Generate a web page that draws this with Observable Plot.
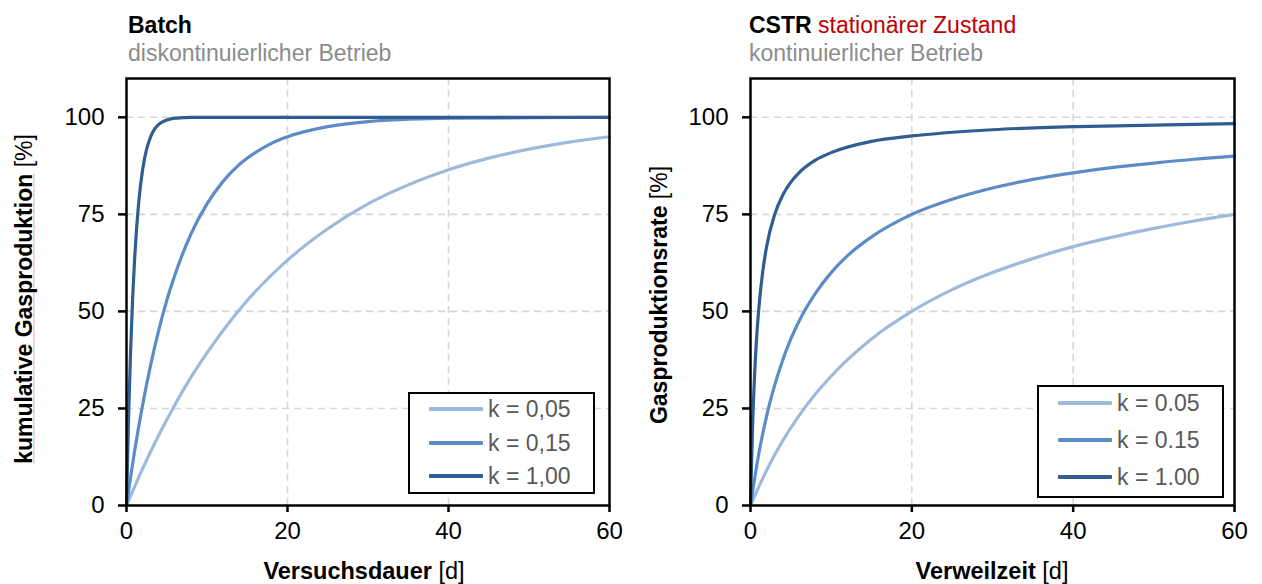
<!DOCTYPE html>
<html><head><meta charset="utf-8">
<script src="https://cdn.jsdelivr.net/npm/d3@7"></script>
<script src="https://cdn.jsdelivr.net/npm/@observablehq/plot@0.6"></script>
<style>
body{margin:0;background:#fff;font-family:"Liberation Sans",Arial,sans-serif;}
#root{position:relative;width:1262px;height:584px;overflow:hidden;background:#fff;}
.abs{position:absolute;white-space:nowrap;line-height:1;}
.panel{position:absolute;top:0;}
.legend{position:absolute;background:#fff;border:2px solid #000;box-sizing:border-box;}
.lrow{position:absolute;left:0;right:0;height:0;}
.lline{position:absolute;height:4px;margin-top:-2px;border-radius:1px;}
.ltext{position:absolute;font-size:23px;color:#595959;line-height:1;margin-top:-11.5px;white-space:nowrap;}
</style></head><body><div id="root"></div><script>
// ---- data ----
const kLabelsBatch = ["k = 0,05", "k = 0,15", "k = 1,00"];
const kLabelsCstr = ["k = 0.05", "k = 0.15", "k = 1.00"];
const seriesColors = ["#9dbadd", "#5b8cc8", "#305d92"];

// Batch (cumulative gas production, %)
const batchT005 = [0, 2, 4, 6, 8, 10, 12, 15, 20, 25, 30, 35, 40, 45, 50, 55, 60];
const batchV005 = [0, 9.5, 18.1, 25.9, 33.0, 39.3, 45.1, 52.8, 63.2, 71.3, 77.7, 82.6, 86.5, 89.5, 91.8, 93.6, 95.0];
const batchT015 = [0, 1, 2, 3, 4, 5, 6, 8, 10, 12, 14, 16, 18, 20, 25, 30, 35, 40, 50, 60];
const batchV015 = [0, 13.9, 25.9, 36.2, 45.1, 52.8, 59.3, 69.9, 77.7, 83.5, 87.8, 90.9, 93.3, 95.0, 97.6, 98.9, 99.5, 99.8, 99.9, 100];
const batchT100 = [0, 0.25, 0.5, 0.75, 1, 1.5, 2, 2.5, 3, 3.5, 4, 5, 6, 7, 8, 10, 20, 40, 60];
const batchV100 = [0, 22.1, 39.3, 52.8, 63.2, 77.7, 86.5, 91.8, 95.0, 97.0, 98.2, 99.3, 99.8, 99.9, 100, 100, 100, 100, 100];

// CSTR (gas production rate, %)
const cstrT005 = [0, 2, 4, 6, 8, 10, 12, 15, 20, 25, 30, 35, 40, 45, 50, 55, 60];
const cstrV005 = [0, 9.1, 16.7, 23.1, 28.6, 33.3, 37.5, 42.9, 50.0, 55.6, 60.0, 63.6, 66.7, 69.2, 71.4, 73.3, 75.0];
const cstrT015 = [0, 1, 2, 3, 4, 5, 6, 8, 10, 12, 15, 20, 25, 30, 35, 40, 45, 50, 55, 60];
const cstrV015 = [0, 13.0, 23.1, 31.0, 37.5, 42.9, 47.4, 54.5, 60.0, 64.3, 69.2, 75.0, 78.9, 81.8, 84.0, 85.7, 87.1, 88.2, 89.2, 90.0];
const cstrT100 = [0, 0.25, 0.5, 0.75, 1, 1.5, 2, 3, 4, 5, 6, 8, 10, 15, 20, 30, 40, 50, 60];
const cstrV100 = [0, 20.0, 33.3, 42.9, 50.0, 60.0, 66.7, 75.0, 80.0, 83.3, 85.7, 88.9, 90.9, 93.8, 95.2, 96.8, 97.6, 98.0, 98.4];

const xTicks = [0, 20, 40, 60];
const yTicks = [0, 25, 50, 75, 100];

function toRows(ts, vs, labels) {
  return ts.flatMap((t, i) => t.map((x, j) => ({t: x, v: vs[i][j], k: labels[i]})));
}
const batchData = toRows([batchT005, batchT015, batchT100], [batchV005, batchV015, batchV100], kLabelsBatch);
const cstrData = toRows([cstrT005, cstrT015, cstrT100], [cstrV005, cstrV015, cstrV100], kLabelsCstr);

const root = document.getElementById("root");
const FONT = '"Liberation Sans", Arial, sans-serif';

function panel(data, labels, left, mL, mR) {
  const svg = Plot.plot({
    width: 631, height: 584,
    marginLeft: mL, marginRight: mR, marginTop: 78, marginBottom: 79,
    style: {fontSize: "24px", fontFamily: FONT, color: "#000", background: "transparent", overflow: "visible"},
    x: {domain: [0, 60]},
    y: {domain: [0, 110]},
    color: {domain: labels, range: seriesColors},
    marks: [
      Plot.gridX(xTicks.filter(d => d > 0 && d < 60), {stroke: "#d6d6d6", strokeOpacity: 1, strokeWidth: 1.6, strokeDasharray: "7,5"}),
      Plot.gridY(yTicks.filter(d => d > 0), {stroke: "#d6d6d6", strokeOpacity: 1, strokeWidth: 1.6, strokeDasharray: "7,5"}),
      Plot.line(data, {x: "t", y: "v", z: "k", stroke: "k", strokeWidth: 3.2, curve: "monotone-x"}),
      Plot.frame({stroke: "#000", strokeWidth: 2.5}),
      Plot.axisX({ticks: xTicks, tickSize: 7, tickPadding: 9, stroke: "#000", strokeWidth: 2.5, label: null, tickFormat: d => String(d)}),
      Plot.axisY({ticks: yTicks, tickSize: 8, tickPadding: 14, stroke: "#000", strokeWidth: 2.5, label: null, tickFormat: d => String(d)})
    ]
  });
  svg.classList.add("panel");
  svg.style.left = left + "px";
  svg.style.position = "absolute";
  root.appendChild(svg);
}
panel(batchData, kLabelsBatch, 0, 126, 22);
panel(cstrData, kLabelsCstr, 631, 119, 28);

function text(html, x, baseline, size, extra) {
  const d = document.createElement("div");
  d.className = "abs";
  d.style.fontSize = size + "px";
  d.style.left = x + "px";
  d.style.top = (baseline - 0.8465 * size) + "px";
  if (extra) Object.assign(d.style, extra);
  d.innerHTML = html;
  root.appendChild(d);
  return d;
}
// titles
text('<b>Batch</b>', 128, 33, 23, {color: "#000"});
text('diskontinuierlicher Betrieb', 128, 61, 23, {color: "#8c8c8c"});
text('<b>CSTR</b> <span style="color:#c00000">stationärer Zustand</span>', 749, 33, 23, {color: "#000"});
text('kontinuierlicher Betrieb', 749, 61, 23, {color: "#8c8c8c"});

function centered(html, cx, cy, size, rot, extra) {
  const d = document.createElement("div");
  d.className = "abs";
  d.style.fontSize = size + "px";
  d.style.left = cx + "px";
  d.style.top = cy + "px";
  d.style.transform = "translate(-50%,-50%)" + (rot ? " rotate(-90deg)" : "");
  if (extra) Object.assign(d.style, extra);
  d.innerHTML = html;
  root.appendChild(d);
}
centered('<b>Versuchsdauer</b> [d]', 364, 580 - 0.3465 * 23.5, 23.5, false);
centered('<b>Verweilzeit</b> [d]', 992, 580 - 0.3465 * 23.5, 23.5, false);
centered('<b style="text-decoration:underline;text-decoration-color:#f4a3a3;text-decoration-thickness:1px;text-underline-offset:2px">kumulative Gasproduktion</b> [%]', 32 - 0.3465 * 23, 299, 23, true);
centered('<b>Gasproduktionsrate</b> [%]', 667 - 0.3465 * 23, 295, 23, true);

// legends
function legend(labels, left, top, w, h, rows) {
  const box = document.createElement("div");
  box.className = "legend";
  Object.assign(box.style, {left: left + "px", top: top + "px", width: w + "px", height: h + "px"});
  labels.forEach((lab, i) => {
    const r = document.createElement("div");
    r.className = "lrow";
    r.style.top = rows[i] + "px";
    const ln = document.createElement("div");
    ln.className = "lline";
    Object.assign(ln.style, {left: "19px", width: "54px", background: seriesColors[i]});
    const tx = document.createElement("div");
    tx.className = "ltext";
    tx.style.left = "78px";
    tx.textContent = lab;
    r.appendChild(ln); r.appendChild(tx);
    box.appendChild(r);
  });
  root.appendChild(box);
}
legend(kLabelsBatch, 408, 392, 187, 102, [15, 49, 82]);
legend(kLabelsCstr, 1037, 385, 187, 113, [16, 53, 90]);
</script></body></html>
